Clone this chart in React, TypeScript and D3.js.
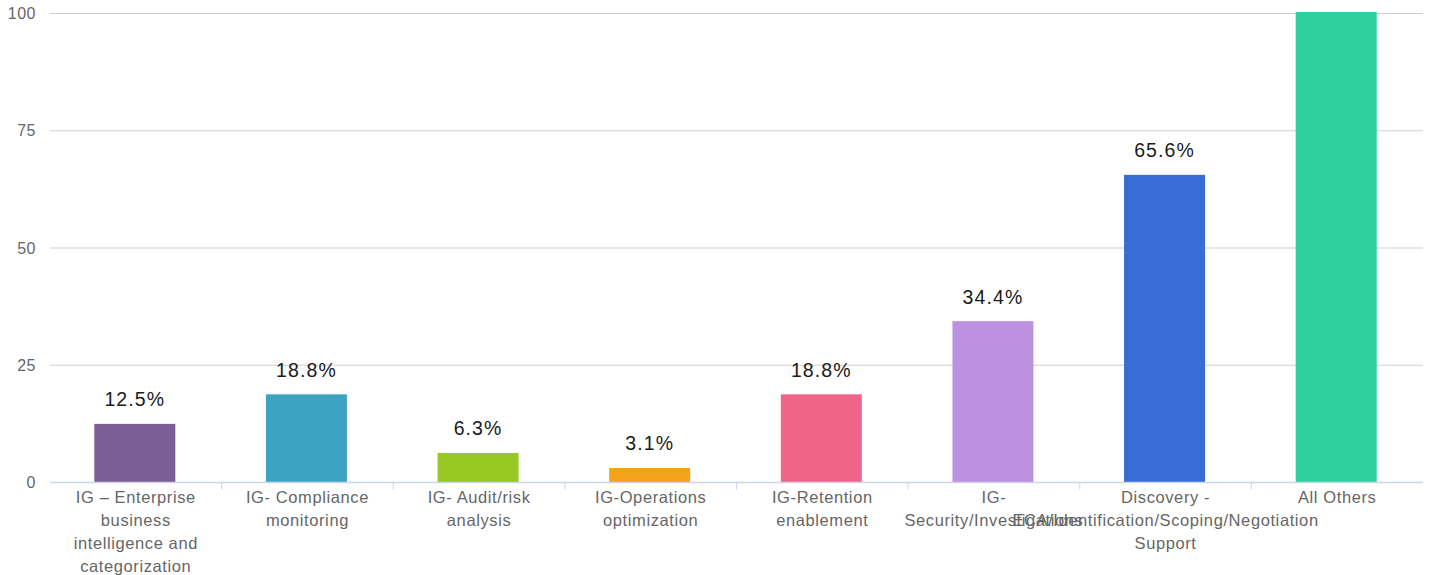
import React from "react";
import * as d3 from "d3";

const categories = [
  "IG – Enterprise business intelligence and categorization",
  "IG- Compliance monitoring",
  "IG- Audit/risk analysis",
  "IG-Operations optimization",
  "IG-Retention enablement",
  "IG- Security/Investigations",
  "Discovery - ECA/Identification/Scoping/Negotiation Support",
  "All Others",
];
const categoryLines = [
  ["IG – Enterprise", "business", "intelligence and", "categorization"],
  ["IG- Compliance", "monitoring"],
  ["IG- Audit/risk", "analysis"],
  ["IG-Operations", "optimization"],
  ["IG-Retention", "enablement"],
  ["IG-", "Security/Investigations"],
  ["Discovery -", "ECA/Identification/Scoping/Negotiation", "Support"],
  ["All Others"],
];
const values = [12.5, 18.8, 6.3, 3.1, 18.8, 34.4, 65.6, 100];
const valueLabels = ["12.5%", "18.8%", "6.3%", "3.1%", "18.8%", "34.4%", "65.6%", ""];
const colors = ["#7b5e94", "#3ea2c2", "#97c823", "#f4a11c", "#f06487", "#bd90e0", "#396cd4", "#2ecf9d"];
const yTicks = [0, 25, 50, 75, 100];

const W = 1434;
const H = 575;
const left = 50;
const right = 1423;
const top = 13.5;
const bottom = 482.5;

export default function App() {
  const x = d3.scaleBand<string>().domain(categories).range([left, right]).padding(0);
  const y = d3.scaleLinear().domain([0, 100]).range([bottom, top]);
  const bw = x.bandwidth() * 0.472;
  const font = "'Liberation Sans', Arial, sans-serif";

  return (
    <svg width={W} height={H} style={{ position: "absolute", left: 0, top: 0, display: "block" }} fontFamily={font}>
      <rect width={W} height={H} fill="#ffffff" />
      {yTicks.map((t) =>
        t === 0 ? null : (
          <line key={"g" + t} x1={left} x2={right} y1={y(t)} y2={y(t)} stroke="#cfcfcf" strokeWidth={1.2} />
        )
      )}
      {yTicks.map((t) => (
        <text key={"yl" + t} x={36} y={y(t)} dy="0.35em" textAnchor="end" fontSize={16} fill="#666666" letterSpacing="0.5">
          {t}
        </text>
      ))}
      {categories.map((c, i) => {
        const cx = (x(c) as number) + x.bandwidth() / 2 - 1;
        return (
          <rect key={"b" + i} x={cx - bw / 2} y={y(values[i]) - (i === 7 ? 1.5 : 0)} width={bw}
            height={bottom - y(values[i]) + (i === 7 ? 1.5 : 0)} fill={colors[i]} />
        );
      })}
      <line x1={left} x2={right} y1={bottom} y2={bottom} stroke="#ccd6eb" strokeWidth={1.5} />
      {categories.slice(1).map((c, i) => (
        <line key={"t" + i} x1={x(c) as number} x2={x(c) as number} y1={bottom} y2={bottom + 7} stroke="#ccd6eb" strokeWidth={1} />
      ))}
      {categories.map((c, i) =>
        valueLabels[i] ? (
          <text key={"v" + i} x={(x(c) as number) + x.bandwidth() / 2 - 1} y={y(values[i]) - 17.5}
            textAnchor="middle" fontSize={19.5} fill="#1a1a1a" letterSpacing="1.1">
            {valueLabels[i]}
          </text>
        ) : null
      )}
      {categories.map((c, i) => (
        <text key={"xl" + i} x={(x(c) as number) + x.bandwidth() / 2} y={503} textAnchor="middle"
          fontSize={16.5} fill="#666666" letterSpacing="0.6">
          {categoryLines[i].map((ln, j) => (
            <tspan key={j} x={(x(c) as number) + x.bandwidth() / 2} dy={j === 0 ? 0 : 23}>
              {ln}
            </tspan>
          ))}
        </text>
      ))}
    </svg>
  );
}
